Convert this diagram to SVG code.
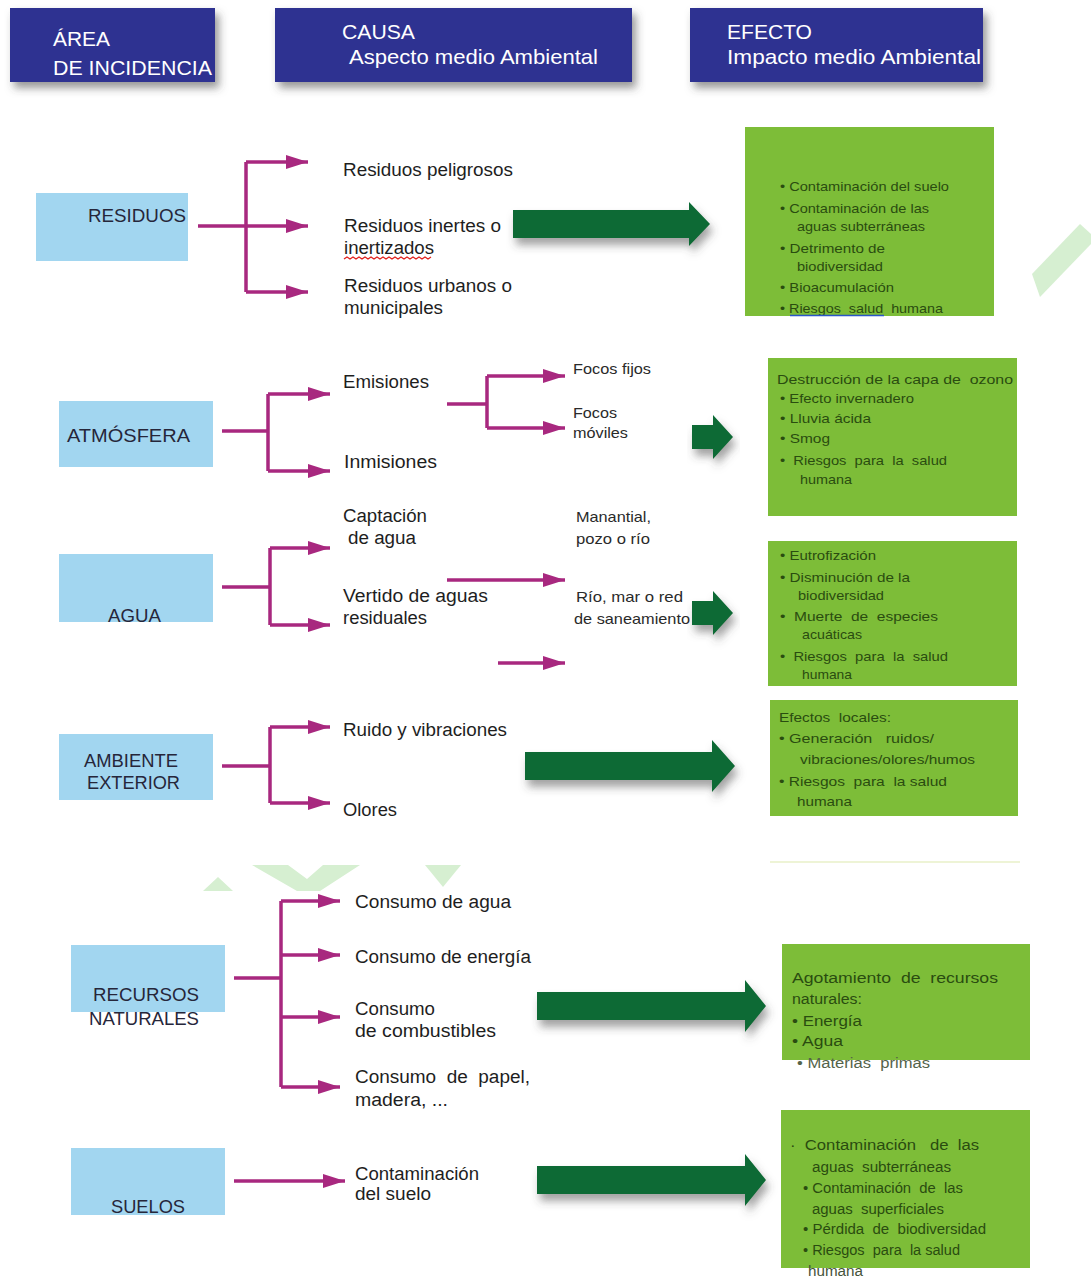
<svg xmlns="http://www.w3.org/2000/svg" width="1091" height="1281" viewBox="0 0 1091 1281">
<style>
.hdr{fill:#2d3091}
.htxt{font-family:"Liberation Sans",Arial,sans-serif;font-size:21px;fill:#ffffff}
.area{fill:#a2d6f0}
.atxt{font-family:"Liberation Sans",Arial,sans-serif;font-size:18px;fill:#26263a}
.ctxt{font-family:"Liberation Sans",Arial,sans-serif;font-size:18px;fill:#1e1e1e;white-space:pre}
.stxt{font-family:"Liberation Sans",Arial,sans-serif;font-size:15px;fill:#2a2a2a}
.eff{fill:#7dbd38}
.etxt{font-family:"Liberation Sans",Arial,sans-serif;font-size:13.5px;fill:#2a4c10;white-space:pre}
.etxt2{font-family:"Liberation Sans",Arial,sans-serif;font-size:14px;fill:#2a4c10;white-space:pre}
.mag{stroke:#a8287f;stroke-width:3.5;fill:none}
.garrow{fill:#0b6a36}
.wm{fill:#d6efd1}
</style>
<defs>
<marker id="ah" markerUnits="userSpaceOnUse" markerWidth="24" markerHeight="16" refX="22" refY="7" orient="auto">
<path d="M0,0 L22,7 L0,14 z" fill="#a8287f"/>
</marker>
<filter id="sh" x="-10%" y="-20%" width="125%" height="160%">
<feDropShadow dx="4" dy="6" stdDeviation="4" flood-color="#444" flood-opacity="0.55"/>
</filter>
<filter id="shg" x="-10%" y="-30%" width="125%" height="180%">
<feDropShadow dx="3" dy="7" stdDeviation="4" flood-color="#444" flood-opacity="0.5"/>
</filter>
</defs>
<rect width="1091" height="1281" fill="#ffffff"/>

<!-- watermark shapes -->
<g id="watermark">
<polygon class="wm" points="1032,274 1080,224 1091,234 1091,244 1040,297"/>
<polygon class="wm" points="203,891 218,877 233,891"/>
<polygon class="wm" points="252,865 288,865 307,879 323,865 360,865 320,891 297,891"/>
<polygon class="wm" points="425,865 461,865 443,887"/>
</g>

<!-- headers -->
<g id="hdr-area">
<rect class="hdr" x="10" y="8" width="205" height="74" filter="url(#sh)"/>
<text class="htxt" x="53" y="46" textLength="57" lengthAdjust="spacingAndGlyphs">ÁREA</text>
<text class="htxt" x="53" y="75" textLength="159" lengthAdjust="spacingAndGlyphs">DE INCIDENCIA</text>
</g>
<g id="hdr-causa">
<rect class="hdr" x="275" y="8" width="357" height="74" filter="url(#sh)"/>
<text class="htxt" x="342" y="39" textLength="73" lengthAdjust="spacingAndGlyphs">CAUSA</text>
<text class="htxt" x="349" y="64" textLength="249" lengthAdjust="spacingAndGlyphs">Aspecto medio Ambiental</text>
</g>
<g id="hdr-efecto">
<rect class="hdr" x="690" y="8" width="293" height="74" filter="url(#sh)"/>
<text class="htxt" x="727" y="39" textLength="85" lengthAdjust="spacingAndGlyphs">EFECTO</text>
<text class="htxt" x="727" y="64" textLength="254" lengthAdjust="spacingAndGlyphs">Impacto medio Ambiental</text>
</g>

<!-- area nodes -->
<g id="area-residuos">
<rect class="area" x="36" y="193" width="152" height="68"/>
<text class="atxt" x="88" y="222" textLength="98" lengthAdjust="spacingAndGlyphs">RESIDUOS</text>
</g>
<g id="area-atmosfera">
<rect class="area" x="59" y="401" width="154" height="66"/>
<text class="atxt" x="67" y="442" textLength="123" lengthAdjust="spacingAndGlyphs">ATMÓSFERA</text>
</g>
<g id="area-agua">
<rect class="area" x="59" y="554" width="154" height="68"/>
<text class="atxt" x="108" y="622" textLength="53" lengthAdjust="spacingAndGlyphs">AGUA</text>
</g>
<g id="area-ambiente">
<rect class="area" x="59" y="734" width="154" height="66"/>
<text class="atxt" x="84" y="767" textLength="94" lengthAdjust="spacingAndGlyphs">AMBIENTE</text>
<text class="atxt" x="87" y="789" textLength="93" lengthAdjust="spacingAndGlyphs">EXTERIOR</text>
</g>
<g id="area-recursos">
<rect class="area" x="71" y="945" width="154" height="67"/>
<text class="atxt" x="93" y="1001" textLength="106" lengthAdjust="spacingAndGlyphs">RECURSOS</text>
<text class="atxt" x="89" y="1025" textLength="110" lengthAdjust="spacingAndGlyphs">NATURALES</text>
</g>
<g id="area-suelos">
<rect class="area" x="71" y="1148" width="154" height="67"/>
<text class="atxt" x="111" y="1213" textLength="74" lengthAdjust="spacingAndGlyphs">SUELOS</text>
</g>

<!-- connectors -->
<g id="connectors">
<path class="mag" d="M198,226 H246 M246,162 V292"/>
<path class="mag" d="M246,162 H308" marker-end="url(#ah)"/>
<path class="mag" d="M246,226 H308" marker-end="url(#ah)"/>
<path class="mag" d="M246,292 H308" marker-end="url(#ah)"/>

<path class="mag" d="M222,431 H268 M268,394 V471"/>
<path class="mag" d="M268,394 H330" marker-end="url(#ah)"/>
<path class="mag" d="M268,471 H330" marker-end="url(#ah)"/>
<path class="mag" d="M447,404 H487 M487,376 V428"/>
<path class="mag" d="M487,376 H565" marker-end="url(#ah)"/>
<path class="mag" d="M487,428 H565" marker-end="url(#ah)"/>

<path class="mag" d="M222,587 H270 M270,548 V625"/>
<path class="mag" d="M270,548 H330" marker-end="url(#ah)"/>
<path class="mag" d="M270,625 H330" marker-end="url(#ah)"/>
<path class="mag" d="M447,580 H565" marker-end="url(#ah)"/>
<path class="mag" d="M498,663 H565" marker-end="url(#ah)"/>

<path class="mag" d="M222,766 H270 M270,727 V803"/>
<path class="mag" d="M270,727 H330" marker-end="url(#ah)"/>
<path class="mag" d="M270,803 H330" marker-end="url(#ah)"/>

<path class="mag" d="M234,978 H281 M281,901 V1087"/>
<path class="mag" d="M281,901 H340" marker-end="url(#ah)"/>
<path class="mag" d="M281,955 H340" marker-end="url(#ah)"/>
<path class="mag" d="M281,1017 H340" marker-end="url(#ah)"/>
<path class="mag" d="M281,1087 H340" marker-end="url(#ah)"/>

<path class="mag" d="M234,1181 H345" marker-end="url(#ah)"/>

<polygon class="garrow" filter="url(#shg)" points="513,210 689,210 689,202 710,224 689,246 689,238 513,238"/>
<polygon class="garrow" filter="url(#shg)" points="692,425 713,425 713,415 733,437 713,459 713,449 692,449"/>
<polygon class="garrow" filter="url(#shg)" points="692,601 713,601 713,591 733,613 713,635 713,625 692,625"/>
<polygon class="garrow" filter="url(#shg)" points="525,752 712,752 712,740 735,766 712,792 712,780 525,780"/>
<polygon class="garrow" filter="url(#shg)" points="537,992 745,992 745,980 766,1006 745,1032 745,1020 537,1020"/>
<polygon class="garrow" filter="url(#shg)" points="537,1166 745,1166 745,1154 766,1180 745,1206 745,1194 537,1194"/>
</g>

<!-- cause texts -->
<g id="causa-residuos">
<text class="ctxt" x="343" y="176" textLength="170" lengthAdjust="spacingAndGlyphs">Residuos peligrosos</text>
<text class="ctxt" x="344" y="232" textLength="157" lengthAdjust="spacingAndGlyphs">Residuos inertes o</text>
<text class="ctxt" x="344" y="254" textLength="90" lengthAdjust="spacingAndGlyphs">inertizados</text>
<path d="M344,259 l3,-2 l3,2 l3,-2 l3,2 l3,-2 l3,2 l3,-2 l3,2 l3,-2 l3,2 l3,-2 l3,2 l3,-2 l3,2 l3,-2 l3,2 l3,-2 l3,2 l3,-2 l3,2 l3,-2 l3,2 l3,-2 l3,2 l3,-2 l3,2 l3,-2 l3,2 l3,-2" fill="none" stroke="#e0201c" stroke-width="1.3"/>
<text class="ctxt" x="344" y="292" textLength="168" lengthAdjust="spacingAndGlyphs">Residuos urbanos o</text>
<text class="ctxt" x="344" y="314" textLength="99" lengthAdjust="spacingAndGlyphs">municipales</text>
</g>
<g id="causa-atmosfera">
<text class="ctxt" x="343" y="388" textLength="86" lengthAdjust="spacingAndGlyphs">Emisiones</text>
<text class="ctxt" x="344" y="468" textLength="93" lengthAdjust="spacingAndGlyphs">Inmisiones</text>
<text class="stxt" x="573" y="374" textLength="78" lengthAdjust="spacingAndGlyphs">Focos fijos</text>
<text class="stxt" x="573" y="418" textLength="44" lengthAdjust="spacingAndGlyphs">Focos</text>
<text class="stxt" x="573" y="438" textLength="55" lengthAdjust="spacingAndGlyphs">móviles</text>
</g>
<g id="causa-agua">
<text class="ctxt" x="343" y="522" textLength="84" lengthAdjust="spacingAndGlyphs">Captación</text>
<text class="ctxt" x="348" y="544" textLength="68" lengthAdjust="spacingAndGlyphs">de agua</text>
<text class="ctxt" x="343" y="602" textLength="145" lengthAdjust="spacingAndGlyphs">Vertido de aguas</text>
<text class="ctxt" x="343" y="624" textLength="84" lengthAdjust="spacingAndGlyphs">residuales</text>
<text class="stxt" x="576" y="522" textLength="75" lengthAdjust="spacingAndGlyphs">Manantial,</text>
<text class="stxt" x="576" y="544" textLength="74" lengthAdjust="spacingAndGlyphs">pozo o río</text>
<text class="stxt" x="576" y="602" textLength="107" lengthAdjust="spacingAndGlyphs">Río, mar o red</text>
<text class="stxt" x="574" y="624" textLength="116" lengthAdjust="spacingAndGlyphs">de saneamiento</text>
</g>
<g id="causa-ambiente">
<text class="ctxt" x="343" y="736" textLength="164" lengthAdjust="spacingAndGlyphs">Ruido y vibraciones</text>
<text class="ctxt" x="343" y="816" textLength="54" lengthAdjust="spacingAndGlyphs">Olores</text>
</g>
<g id="causa-recursos">
<text class="ctxt" x="355" y="908" textLength="156" lengthAdjust="spacingAndGlyphs">Consumo de agua</text>
<text class="ctxt" x="355" y="963" textLength="176" lengthAdjust="spacingAndGlyphs">Consumo de energía</text>
<text class="ctxt" x="355" y="1015" textLength="80" lengthAdjust="spacingAndGlyphs">Consumo</text>
<text class="ctxt" x="355" y="1037" textLength="141" lengthAdjust="spacingAndGlyphs">de combustibles</text>
<text class="ctxt" x="355" y="1083" textLength="175" lengthAdjust="spacingAndGlyphs">Consumo  de  papel,</text>
<text class="ctxt" x="355" y="1106" textLength="93" lengthAdjust="spacingAndGlyphs">madera, ...</text>
</g>
<g id="causa-suelos">
<text class="ctxt" x="355" y="1180" textLength="124" lengthAdjust="spacingAndGlyphs">Contaminación</text>
<text class="ctxt" x="355" y="1200" textLength="76" lengthAdjust="spacingAndGlyphs">del suelo</text>
</g>

<!-- effect nodes -->
<g id="efecto-residuos">
<rect class="eff" x="745" y="127" width="249" height="189"/>
<text class="etxt" x="780" y="191" textLength="169" lengthAdjust="spacingAndGlyphs">• Contaminación del suelo</text>
<text class="etxt" x="780" y="213" textLength="149" lengthAdjust="spacingAndGlyphs">• Contaminación de las</text>
<text class="etxt" x="797" y="231" textLength="128" lengthAdjust="spacingAndGlyphs">aguas subterráneas</text>
<text class="etxt" x="780" y="253" textLength="105" lengthAdjust="spacingAndGlyphs">• Detrimento de</text>
<text class="etxt" x="797" y="271" textLength="86" lengthAdjust="spacingAndGlyphs">biodiversidad</text>
<text class="etxt" x="780" y="292" textLength="114" lengthAdjust="spacingAndGlyphs">• Bioacumulación</text>
<text class="etxt" x="780" y="313" textLength="163" lengthAdjust="spacingAndGlyphs">• Riesgos  salud  humana</text>
<line x1="790" y1="315.5" x2="884" y2="315.5" stroke="#2a56c8" stroke-width="1.3"/>
</g>
<g id="efecto-atmosfera">
<rect class="eff" x="768" y="358" width="249" height="158"/>
<text class="etxt" x="777" y="384" textLength="236" lengthAdjust="spacingAndGlyphs">Destrucción de la capa de  ozono</text>
<text class="etxt" x="780" y="403" textLength="134" lengthAdjust="spacingAndGlyphs">• Efecto invernadero</text>
<text class="etxt" x="780" y="423" textLength="91" lengthAdjust="spacingAndGlyphs">• Lluvia ácida</text>
<text class="etxt" x="780" y="443" textLength="50" lengthAdjust="spacingAndGlyphs">• Smog</text>
<text class="etxt" x="780" y="465" textLength="167" lengthAdjust="spacingAndGlyphs">•  Riesgos  para  la  salud</text>
<text class="etxt" x="800" y="484" textLength="52" lengthAdjust="spacingAndGlyphs">humana</text>
</g>
<g id="efecto-agua">
<rect class="eff" x="768" y="541" width="249" height="145"/>
<text class="etxt" x="780" y="560" textLength="96" lengthAdjust="spacingAndGlyphs">• Eutrofización</text>
<text class="etxt" x="780" y="582" textLength="130" lengthAdjust="spacingAndGlyphs">• Disminución de la</text>
<text class="etxt" x="798" y="600" textLength="86" lengthAdjust="spacingAndGlyphs">biodiversidad</text>
<text class="etxt" x="780" y="621" textLength="158" lengthAdjust="spacingAndGlyphs">•  Muerte  de  especies</text>
<text class="etxt" x="802" y="639" textLength="60" lengthAdjust="spacingAndGlyphs">acuáticas</text>
<text class="etxt" x="780" y="661" textLength="168" lengthAdjust="spacingAndGlyphs">•  Riesgos  para  la  salud</text>
<text class="etxt" x="802" y="679" textLength="50" lengthAdjust="spacingAndGlyphs">humana</text>
</g>
<g id="efecto-ambiente">
<rect class="eff" x="770" y="700" width="248" height="116"/>
<line x1="770" y1="862" x2="1020" y2="862" stroke="#eef4d6" stroke-width="2"/>
<text class="etxt" x="779" y="722" textLength="112" lengthAdjust="spacingAndGlyphs">Efectos  locales:</text>
<text class="etxt" x="779" y="743" textLength="155" lengthAdjust="spacingAndGlyphs">• Generación   ruidos/</text>
<text class="etxt" x="800" y="764" textLength="175" lengthAdjust="spacingAndGlyphs">vibraciones/olores/humos</text>
<text class="etxt" x="779" y="786" textLength="168" lengthAdjust="spacingAndGlyphs">• Riesgos  para  la salud</text>
<text class="etxt" x="797" y="806" textLength="55" lengthAdjust="spacingAndGlyphs">humana</text>
</g>
<g id="efecto-recursos">
<rect class="eff" x="782" y="944" width="248" height="116"/>
<text class="etxt2" x="792" y="983" textLength="206" lengthAdjust="spacingAndGlyphs">Agotamiento  de  recursos</text>
<text class="etxt2" x="792" y="1004" textLength="70" lengthAdjust="spacingAndGlyphs">naturales:</text>
<text class="etxt2" x="792" y="1026" textLength="70" lengthAdjust="spacingAndGlyphs">• Energía</text>
<text class="etxt2" x="792" y="1046" textLength="51" lengthAdjust="spacingAndGlyphs">• Agua</text>
<text class="etxt2" x="797" y="1068" textLength="133" lengthAdjust="spacingAndGlyphs" style="fill:#55634a">• Materias  primas</text>
</g>
<g id="efecto-suelos">
<rect class="eff" x="781" y="1110" width="249" height="158"/>
<text class="etxt2" x="790" y="1150" textLength="189" lengthAdjust="spacingAndGlyphs">·  Contaminación   de  las</text>
<text class="etxt2" x="812" y="1172" textLength="139" lengthAdjust="spacingAndGlyphs">aguas  subterráneas</text>
<text class="etxt2" x="803" y="1193" textLength="160" lengthAdjust="spacingAndGlyphs">• Contaminación  de  las</text>
<text class="etxt2" x="812" y="1214" textLength="132" lengthAdjust="spacingAndGlyphs">aguas  superficiales</text>
<text class="etxt2" x="803" y="1234" textLength="183" lengthAdjust="spacingAndGlyphs">• Pérdida  de  biodiversidad</text>
<text class="etxt2" x="803" y="1255" textLength="157" lengthAdjust="spacingAndGlyphs">• Riesgos  para  la salud</text>
<text class="etxt2" x="808" y="1276" textLength="55" lengthAdjust="spacingAndGlyphs" style="fill:#45533a">humana</text>
</g>
</svg>
